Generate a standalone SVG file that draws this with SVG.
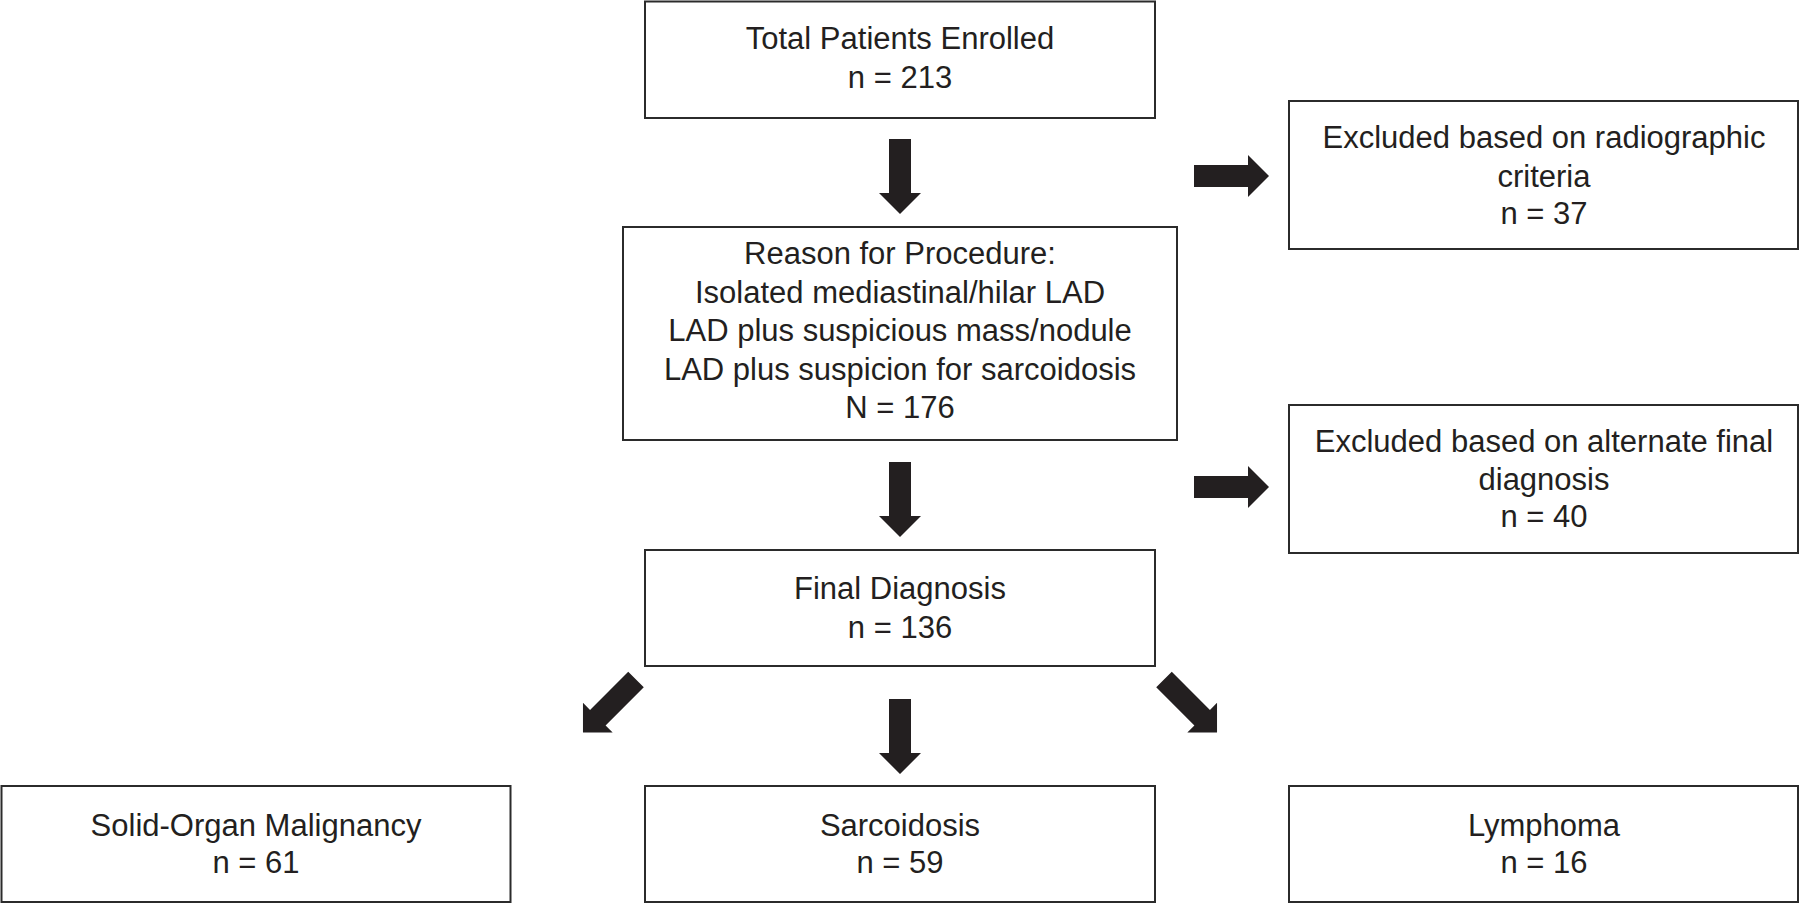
<svg xmlns="http://www.w3.org/2000/svg" width="1800" height="905" viewBox="0 0 1800 905">
<style>
.box{fill:#fff;stroke:#2b2b2b;stroke-width:2}
.t{font-family:"Liberation Sans",Arial,sans-serif;font-size:31px;fill:#231f20;text-anchor:middle}
.arr{fill:#231f20}
</style>
<defs>
<path id="arrow" d="M-11,0 H11 V54 H21 L0,75 L-21,54 H-11 Z"/>
</defs>
<rect width="1800" height="905" fill="#fff"/>
<g id="connectors">
<use href="#arrow" class="arr" transform="translate(900,139)"/>
<use href="#arrow" class="arr" transform="translate(900,462)"/>
<use href="#arrow" class="arr" transform="translate(900,699)"/>
<use href="#arrow" class="arr" transform="translate(1194,176) rotate(-90)"/>
<use href="#arrow" class="arr" transform="translate(1194,487) rotate(-90)"/>
<use href="#arrow" class="arr" transform="translate(636,679.5) rotate(45)"/>
<use href="#arrow" class="arr" transform="translate(1164,679.5) rotate(-45)"/>
</g>
<g id="total">
<rect class="box" x="645" y="1.5" width="510" height="116.5"/>
<text class="t" x="900" y="49">Total Patients Enrolled</text>
<text class="t" x="900" y="88">n = 213</text>
</g>
<g id="excl-radio">
<rect class="box" x="1289" y="101" width="509" height="148"/>
<text class="t" x="1544" y="148">Excluded based on radiographic</text>
<text class="t" x="1544" y="187">criteria</text>
<text class="t" x="1544" y="224">n = 37</text>
</g>
<g id="reason">
<rect class="box" x="623" y="227" width="554" height="213"/>
<text class="t" x="900" y="264">Reason for Procedure:</text>
<text class="t" x="900" y="302.5">Isolated mediastinal/hilar LAD</text>
<text class="t" x="900" y="341">LAD plus suspicious mass/nodule</text>
<text class="t" x="900" y="379.5">LAD plus suspicion for sarcoidosis</text>
<text class="t" x="900" y="418">N = 176</text>
</g>
<g id="excl-alt">
<rect class="box" x="1289" y="405" width="509" height="148"/>
<text class="t" x="1544" y="452">Excluded based on alternate final</text>
<text class="t" x="1544" y="490">diagnosis</text>
<text class="t" x="1544" y="527">n = 40</text>
</g>
<g id="final">
<rect class="box" x="645" y="550" width="510" height="116"/>
<text class="t" x="900" y="599">Final Diagnosis</text>
<text class="t" x="900" y="638">n = 136</text>
</g>
<g id="solid">
<rect class="box" x="1.5" y="786" width="509" height="116"/>
<text class="t" x="256" y="836">Solid-Organ Malignancy</text>
<text class="t" x="256" y="873">n = 61</text>
</g>
<g id="sarcoidosis">
<rect class="box" x="645" y="786" width="510" height="116"/>
<text class="t" x="900" y="836">Sarcoidosis</text>
<text class="t" x="900" y="873">n = 59</text>
</g>
<g id="lymphoma">
<rect class="box" x="1289" y="786" width="509" height="116"/>
<text class="t" x="1544" y="836">Lymphoma</text>
<text class="t" x="1544" y="873">n = 16</text>
</g>
</svg>
